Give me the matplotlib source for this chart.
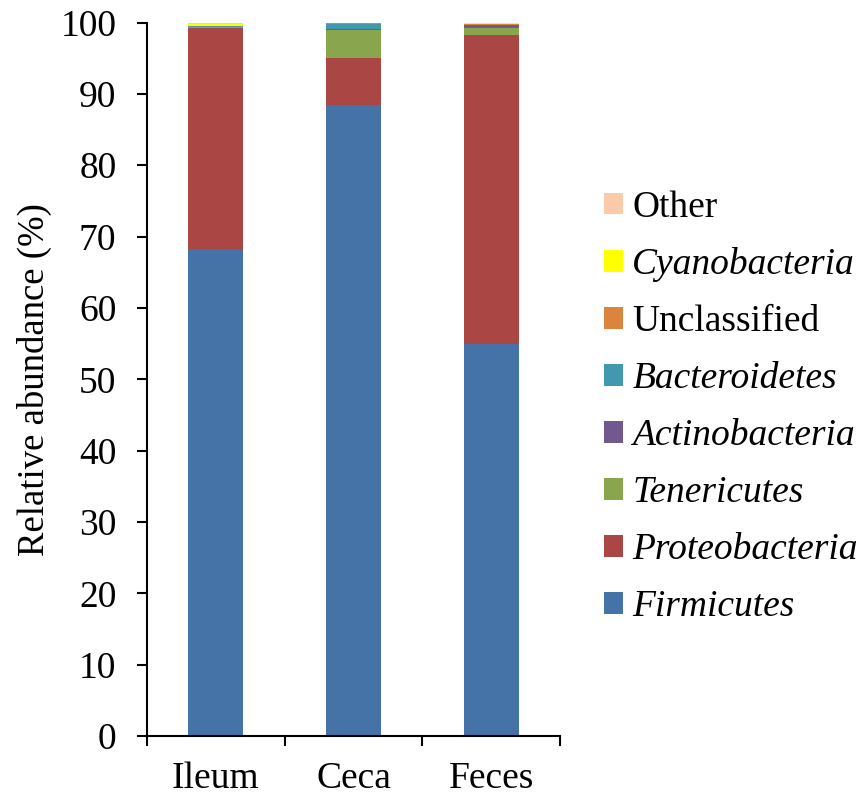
import matplotlib
matplotlib.use("Agg")
import matplotlib.pyplot as plt
from matplotlib.patches import Patch

sites = ["Ileum", "Ceca", "Feces"]

phyla = ["Firmicutes", "Proteobacteria", "Tenericutes", "Actinobacteria",
         "Bacteroidetes", "Unclassified", "Cyanobacteria", "Other"]
italic = [True, True, True, True, True, False, True, False]
colors = ["#4572A7", "#AA4643", "#89A54E", "#71588F",
          "#4198AF", "#DB843D", "#FFFF00", "#F9CBAB"]

# relative abundance (%) per site, in phyla order
firmicutes = [68.3, 88.4, 55.0]
proteobacteria = [31.0, 6.6, 43.3]
tenericutes = [0.05, 4.0, 0.9]
actinobacteria = [0.05, 0.15, 0.4]
bacteroidetes = [0.05, 0.7, 0.1]
unclassified = [0.05, 0.05, 0.05]
cyanobacteria = [0.35, 0.0, 0.15]
other = [0.15, 0.1, 0.1]

series = [firmicutes, proteobacteria, tenericutes, actinobacteria,
          bacteroidetes, unclassified, cyanobacteria, other]

plt.rcParams['font.family'] = ['Liberation Serif', 'DejaVu Serif']

fig = plt.figure(figsize=(8.6, 7.99), dpi=100)
ax = fig.add_axes([0.1709, 0.0788, 0.4802, 0.893])

x = list(range(len(sites)))
bottom = [0.0] * len(sites)
for vals, col in zip(series, colors):
    ax.bar(x, vals, width=0.4, bottom=bottom, color=col, linewidth=0)
    bottom = [b + v for b, v in zip(bottom, vals)]

ax.set_xlim(-0.5, 2.5)
ax.set_ylim(0, 100)
ax.set_yticks(range(0, 101, 10))
ax.set_xticks([-0.5, 0.5, 1.5, 2.5])
ax.set_xticklabels([])
ax.set_xticks(x, minor=True)
ax.set_xticklabels(sites, minor=True)
ax.tick_params(axis='x', which='minor', length=0, pad=18, labelsize=27)
ax.tick_params(axis='x', which='major', direction='out', length=7, width=1.5)
ax.tick_params(axis='y', direction='out', length=7, width=1.5, pad=15, labelsize=27)

for s in ['top', 'right']:
    ax.spines[s].set_visible(False)
for s in ['left', 'bottom']:
    ax.spines[s].set_linewidth(1.5)

ax.set_ylabel("Relative abundance (%)", fontsize=26.5, labelpad=6)

handles = [Patch(facecolor=c, edgecolor='none') for c in colors][::-1]
labels = phyla[::-1]
leg = fig.legend(handles, labels, loc='center left', bbox_to_anchor=(0.702, 0.49),
                 frameon=False, fontsize=27, handlelength=0.51, handleheight=0.51,
                 handletextpad=0.25, labelspacing=0.6, borderaxespad=0, borderpad=0)
for t, it in zip(leg.get_texts(), italic[::-1]):
    if it:
        t.set_style('italic')

fig.savefig("out.png", dpi=100)
